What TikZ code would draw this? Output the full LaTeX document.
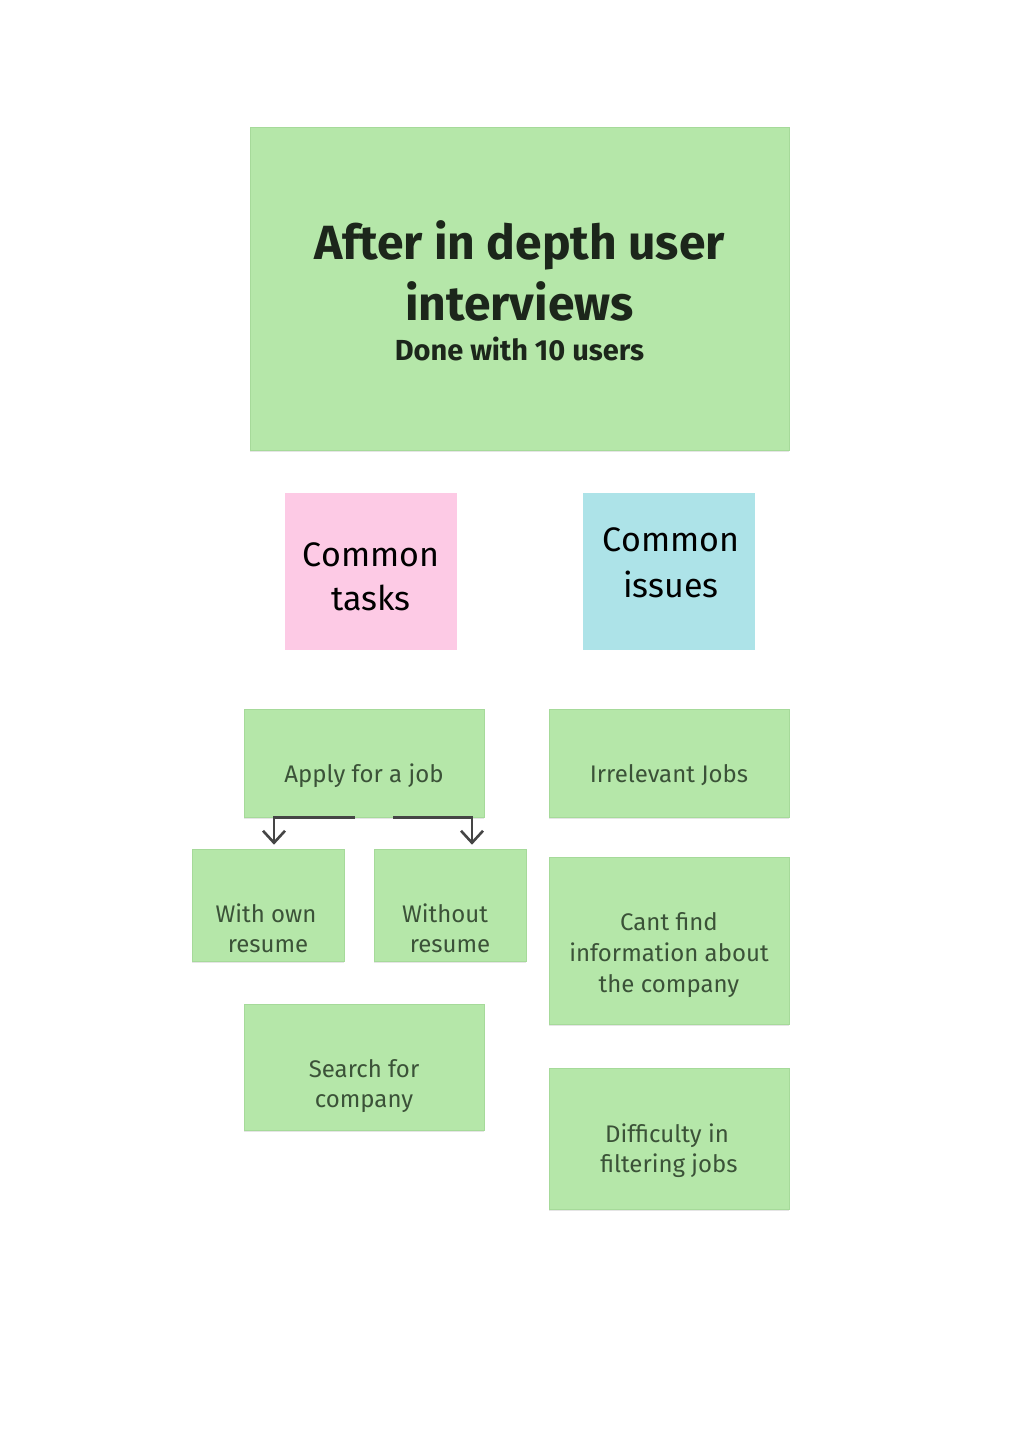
\documentclass[tikz,border=0pt]{standalone}
\usepackage{fontspec}
\setmainfont{Fira Sans}
\usepackage{tikz}
\usetikzlibrary{arrows.meta}
\usetikzlibrary{shadows}
\usetikzlibrary{positioning}

\definecolor{notegreen}{HTML}{B5E7A9}
\definecolor{noteedge}{HTML}{A6DA9A}
\definecolor{notepink}{HTML}{FDCAE5}
\definecolor{noteblue}{HTML}{ADE3E8}
\definecolor{inkdark}{HTML}{1C261B}
\definecolor{inkgreen}{HTML}{3B5238}
\definecolor{linkgray}{HTML}{454545}

\tikzset{
  note/.style={rectangle,fill=notegreen,draw=noteedge,line width=0.6pt,inner sep=0pt,
    drop shadow={shadow xshift=0pt,shadow yshift=-2pt,opacity=0.10,fill=black}},
  tag/.style={rectangle,inner sep=0pt,draw=none},
  line/.style={anchor=base,inner sep=0pt,text=inkgreen,font=\fontsize{24}{31}\selectfont},
  head/.style={anchor=base,inner sep=0pt,text=black,font=\fontsize{34}{44}\selectfont},
  link/.style={draw=linkgray,line width=2.6pt,-{Straight Barb[length=12pt,width=22pt,line width=2.6pt]}}
}

\begin{document}
\begin{tikzpicture}[x=1pt,y=-1pt]

\useasboundingbox[fill=white] (0,0) rectangle (1024,1450);

% title note
\node[note,minimum width=539pt,minimum height=323pt] (title) at (519.5,288.5) {};
\node[anchor=base,inner sep=0pt,text=inkdark,font=\bfseries\fontsize{48}{61}\selectfont] (t1) at (519.5,259) {After in depth user};
\node[anchor=base,inner sep=0pt,text=inkdark,font=\bfseries\fontsize{48}{61}\selectfont] (t2) at (519.5,320) {interviews};
\node[anchor=base,inner sep=0pt,text=inkdark,font=\bfseries\fontsize{29}{36}\selectfont] (t3) at (519.5,360) {Done with 10 users};

% headings
\node[tag,fill=notepink,minimum width=172pt,minimum height=157pt] (tasks) at (371,571.5) {};
\node[head] (tasks1) at (371,566) {Common};
\node[head] (tasks2) at (371,610) {tasks};

\node[tag,fill=noteblue,minimum width=172pt,minimum height=157pt] (issues) at (669,571.5) {};
\node[head] (issues1) at (671,551) {Common};
\node[head] (issues2) at (671,597) {issues};

% common tasks
\node[note,minimum width=240pt,minimum height=108pt] (apply) at (364,763) {};
\node[line] (apply1) at (364,782) {Apply for a job};

\node[note,minimum width=152pt,minimum height=112pt] (own) at (268,905) {};
\node[line] (own1) at (266,922) {With own};
\node[line] (own2) at (268,952) {resume};

\node[note,minimum width=152pt,minimum height=112pt] (nores) at (450,905) {};
\node[line] (nores1) at (445,922) {Without};
\node[line] (nores2) at (450,952) {resume};

\node[note,minimum width=240pt,minimum height=126pt] (search) at (364,1067) {};
\node[line] (search1) at (364,1077) {Search for};
\node[line] (search2) at (364,1107) {company};

% common issues
\node[note,minimum width=240pt,minimum height=108pt] (irrel) at (669,763) {};
\node[line] (irrel1) at (669,782) {Irrelevant Jobs};

\node[note,minimum width=240pt,minimum height=167pt] (cant) at (669,940.5) {};
\node[line] (cant1) at (669,930) {Cant find};
\node[line] (cant2) at (669,961) {information about};
\node[line] (cant3) at (669,992) {the company};

\node[note,minimum width=240pt,minimum height=141pt] (diff) at (669,1138.5) {};
\node[line] (diff1) at (667,1142) {Difficulty in};
\node[line] (diff2) at (669,1172) {filtering jobs};

% connectors
\coordinate (ownin) at ([xshift=6pt,yshift=4pt]own.north);
\coordinate (noresin) at ([xshift=22pt,yshift=4pt]nores.north);
\coordinate (leftout) at ([xshift=-9pt]apply.south);
\coordinate (rightout) at ([xshift=29pt]apply.south);
\draw[link] (leftout) -| (ownin);
\draw[link] (rightout) -| (noresin);

\end{tikzpicture}
\end{document}
